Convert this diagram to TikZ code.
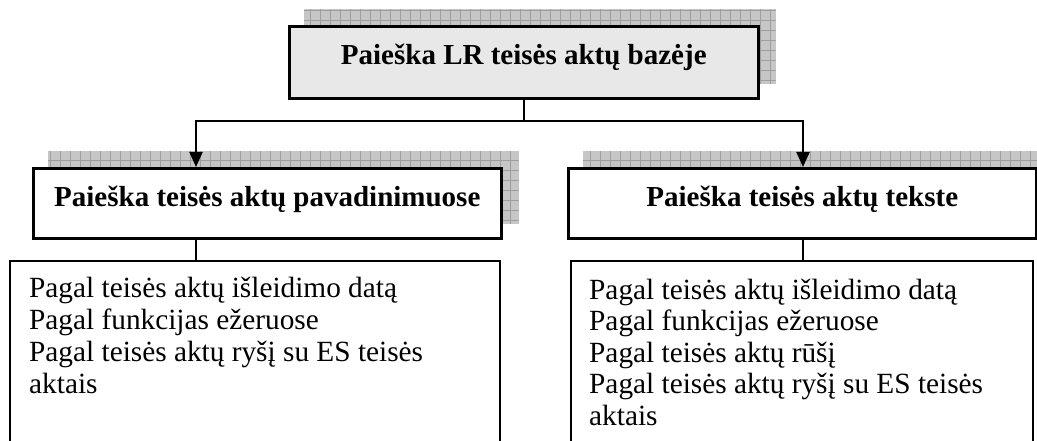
\documentclass[tikz,border=0pt]{standalone}
\usepackage{fontspec}
\setmainfont{Liberation Serif}
\usetikzlibrary{arrows.meta,backgrounds,calc}

\definecolor{topfill}{RGB}{232,232,232}
\definecolor{shadefill}{RGB}{198,198,198}
\definecolor{shadegrid}{RGB}{158,158,158}

\tikzset{
  headbox/.style={draw=black, line width=2.6pt, fill=white, rectangle,
    inner sep=0pt, anchor=north west,
    font=\fontsize{29}{32}\selectfont\bfseries},
  listbox/.style={draw=black, line width=2.2pt, fill=white, rectangle,
    inner sep=0pt, anchor=north west},
  item/.style={anchor=base west, inner sep=0pt,
    font=\fontsize{29.3}{32}\selectfont},
  conn/.style={draw=black, line width=2pt},
  arrowconn/.style={conn, -{Triangle[width=13pt,length=15pt]}},
}

% grid-patterned drop shadow shifted up and to the right of a node
\newcommand{\gridshadow}[1]{%
  \begin{scope}[on background layer]
    \path let \p1=(#1.south west), \p2=(#1.north east) in
      coordinate (sa) at (\x1+16pt,\y1+16pt)
      coordinate (sb) at (\x2+16pt,\y2+16pt);
    \fill[shadefill] (sa) rectangle (sb);
    \begin{scope}
      \clip (sa) rectangle (sb);
      \draw[shadegrid, line width=0.8pt, step=10pt] (sa) grid (sb);
    \end{scope}
  \end{scope}%
}

\begin{document}
\begin{tikzpicture}[x=1pt,y=-1pt]
  \clip (0,0) rectangle (1037,441);

  % top level
  \node[headbox, fill=topfill, minimum width=469pt, minimum height=72pt,
        text height=20pt, text depth=16pt] (top) at (288,25)
        {Paieška LR teisės aktų bazėje};

  % second level
  \node[headbox, minimum width=468pt, minimum height=70pt,
        text height=20pt, text depth=14pt] (midL) at (32,167)
        {Paieška teisės aktų pavadinimuose};
  \node[headbox, minimum width=468pt, minimum height=70pt,
        text height=20pt, text depth=14pt] (midR) at (567,167)
        {Paieška teisės aktų tekste};

  \gridshadow{top}
  \gridshadow{midL}
  \gridshadow{midR}

  % third level
  \node[listbox, minimum width=490pt, minimum height=200pt] (lbox) at (9,260) {};
  \node[listbox, minimum width=462pt, minimum height=200pt] (rbox) at (570,260) {};

  \foreach \t [count=\i] in {Pagal teisės aktų išleidimo datą,
      Pagal funkcijas ežeruose,
      Pagal teisės aktų ryšį su ES teisės,
      aktais}
    \node[item] (l\i) at ([xshift=20pt,yshift={-37pt-(\i-1)*32pt}]lbox.north west) {\t};

  \foreach \t [count=\i] in {Pagal teisės aktų išleidimo datą,
      Pagal funkcijas ežeruose,
      Pagal teisės aktų rūšį,
      Pagal teisės aktų ryšį su ES teisės,
      aktais}
    \node[item] (r\i) at ([xshift=19pt,yshift={-39pt-(\i-1)*31.5pt}]rbox.north west) {\t};

  % connectors
  \draw[conn] (top.south) -- ++(0,21) coordinate (split);
  \coordinate (aL) at ([xshift=164pt]midL.north west);
  \coordinate (aR) at ([xshift=236pt]midR.north west);
  \draw[arrowconn] (split) -| (aL);
  \draw[arrowconn] (split) -| (aR);
  \draw[conn] (aL |- midL.south) -- (aL |- lbox.north);
  \draw[conn] (aR |- midR.south) -- (aR |- rbox.north);
\end{tikzpicture}
\end{document}
